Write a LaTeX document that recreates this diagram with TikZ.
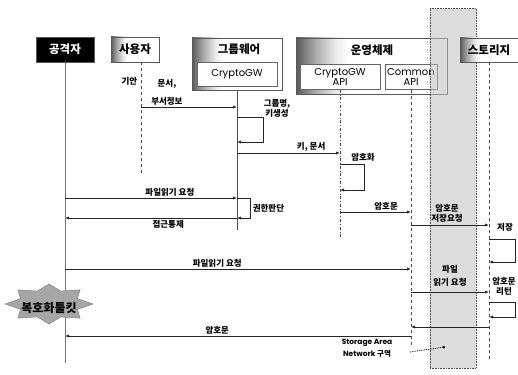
\documentclass[tikz,border=0pt]{standalone}
\usepackage{fontspec}
\setmainfont{Noto Sans CJK KR}
\newfontfamily\korfont{Noto Sans CJK KR}
\newfontfamily\latfont{Poppins}
\usetikzlibrary{arrows.meta,positioning}
\pgfdeclarehorizontalshading{hdrshade}{100bp}{color(0bp)=(black!65); color(25bp)=(black!65); color(31bp)=(black!35); color(38bp)=(black!8); color(42bp)=(white); color(100bp)=(white)}

\begin{document}
\begin{tikzpicture}[
    x=1pt, y=-1pt,
    >={Latex[length=4pt,width=3.2pt]},
    line width=0.6pt,
    every node/.style={font=\bfseries\fontsize{8.5}{10}\selectfont},
    hdr/.style={
        rectangle,
        draw=black!65,
        inner sep=0pt,
        font=\bfseries\fontsize{11.5}{13}\selectfont
    },
    fadehdr/.style={hdr, shading=hdrshade},
    ttl/.style={font=\bfseries\fontsize{11.5}{13}\selectfont},
    api/.style={
        rectangle,
        draw=black!60,
        fill=white,
        align=center,
        inner sep=0pt,
        font=\latfont\fontsize{10}{10.5}\selectfont
    },
    san/.style={
        rectangle,
        draw=black!70,
        densely dotted,
        fill=black!25,
        fill opacity=0.55,
        inner sep=0pt
    },
    life/.style={draw=black!70},
    msg/.style={->, draw=black!85, line width=0.8pt},
    lbl/.style={align=center, inner sep=1.5pt}
]
\useasboundingbox (0,0) rectangle (518,374);

% participants
\node[hdr, fill=black, text=white, minimum width=58, minimum height=25] (atk) at (65,49.5) {공격자};
\node[fadehdr, minimum width=48, minimum height=25] (usr) at (135,49.5) {사용자};
\node[fadehdr, minimum width=90, minimum height=52] (gw) at (237,64) {};
\node[ttl] (gwtitle) at (239,49) {그룹웨어};
\node[api, minimum width=80, minimum height=24] (gwcore) at (237,74) {CryptoGW};
\node[fadehdr, minimum width=151, minimum height=56] (os) at (371.5,66) {};
\node[ttl] (ostitle) at (372,50) {운영체제};
\node[api, minimum width=80, minimum height=25] (osapi) at (340,77) {CryptoGW\\API};
\node[api, minimum width=52, minimum height=25] (osc) at (411,77) {Common\\API};

% storage area network
\node[san, minimum width=46, minimum height=360] (sanzone) at (453,188) {};
\node[fadehdr, minimum width=58, minimum height=24] (sto) at (489,50) {스토리지};

% lifelines
\coordinate (usrtop) at (141,62);
\coordinate (usrbot) at (141,175);
\coordinate (atkbot) at (65,363);
\coordinate (gwbot) at (237,230);
\coordinate (osapibot) at (340,237);
\coordinate (oscbot) at (411,345);
\coordinate (stobot) at (489,362);
\draw[life, draw=black!55, line width=0.9pt] (atk.south) -- (atkbot);
\draw[life, dashed] (usrtop) -- (usrbot);
\draw[life] (gw.south) -- (gwbot);
\draw[life, dash dot] (osapi.south) -- (osapibot);
\draw[life, dashed] (osc.south) -- (oscbot);
\draw[life, dashed] (sto.south) -- (stobot);

% user -> groupware -> os
\node[lbl, anchor=east] (draft) at (139,81) {기안};
\draw[msg] (usrtop |- 0,107) -- node[lbl, above, pos=0.27] {문서,\\[8pt]부서정보} (gw.south |- 0,107);
\draw[msg] (gw.south |- 0,117) -- ++(26,0) |- (gw.south |- 0,142);
\node[lbl] (grpkey) at (277,108) {그룹명,\\키생성};
\draw[msg] (gw.south |- 0,153) -- node[lbl, above, pos=0.72] {키, 문서} (osapi.south |- 0,153);
\node[lbl] (enc) at (363,157) {암호화};
\draw[msg] (osapi.south |- 0,164) -- ++(24,0) |- (osapi.south |- 0,190);
\draw[msg] (osapi.south |- 0,212) -- node[lbl, above, pos=0.65] {암호문} (osc.south |- 0,212);
\draw[msg] (osc.south |- 0,225) -- (sto.south |- 0,225);
\node[lbl] (storereq) at (447,213) {암호문\\저장요청};
\node[lbl] (save) at (505,227) {저장};
\draw[msg] (sto.south |- 0,239) -- ++(26,0) |- (sto.south |- 0,262);

% attacker requests
\draw[msg] (atk.south |- 0,198) -- node[lbl, above, pos=0.61] {파일읽기 요청} (gw.south |- 0,198);
\draw[msg] (gw.south |- 0,198) -- ++(13,0) |- (gw.south |- 0,218);
\node[lbl, anchor=west] (auth) at (251,208) {권한판단};
\draw[msg] (gw.south |- 0,218) -- node[lbl, below, pos=0.4] {접근통제} (atk.south |- 0,218);
\draw[msg] (atk.south |- 0,269) -- node[lbl, above, pos=0.44] {파일읽기 요청} (osc.south |- 0,269);
\draw[msg] (osc.south |- 0,292) -- (sto.south |- 0,292);
\node[lbl] (readreq) at (450,276) {파일\\[3pt]읽기 요청};
\node[lbl] (ret) at (504,286) {암호문\\리턴};
\draw[msg] (sto.south |- 0,302) -- ++(26,0) |- (sto.south |- 0,317);
\draw[msg] (sto.south |- 0,327) -- (osc.south |- 0,327);
\draw[msg] (osc.south |- 0,336) -- node[lbl, above, pos=0.56] {암호문} (atk.south |- 0,336);

% SAN note
\node[lbl, font=\latfont\bfseries\fontsize{7.5}{12}\selectfont] (sanlbl) at (367,348) {Storage Area\\Network {\korfont 구역}};
\coordinate (sanfoot) at (410,352);
\coordinate (santip) at (445,347);
\draw[densely dotted, line width=0.8pt, -{Circle[length=2.5pt]}] (sanfoot) -- (santip);

% decryption tool
\filldraw[fill=black!35, draw=black!55, line width=0.4pt]
    plot[samples at={0,...,15}] ({49+44*(1-0.3*mod(\x,2))*cos(22.5*\x)}, {304+20*(1-0.3*mod(\x,2))*sin(22.5*\x)}) -- cycle;
\node[font=\bfseries\fontsize{12}{14}\selectfont] (dec) at (49,308) {복호화툴킷};

\end{tikzpicture}
\end{document}
